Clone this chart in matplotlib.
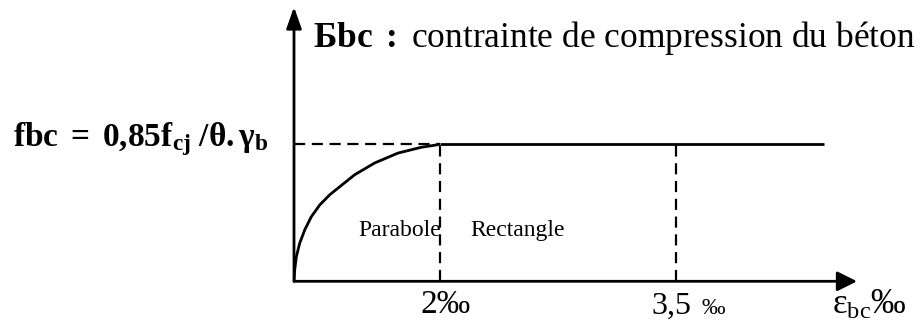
import matplotlib
matplotlib.use("Agg")
import matplotlib.pyplot as plt

plt.rcParams['font.family'] = ['Liberation Serif', 'DejaVu Serif']
plt.rcParams['mathtext.fontset'] = 'custom'
plt.rcParams['mathtext.rm'] = 'Liberation Serif'
plt.rcParams['mathtext.it'] = 'Liberation Serif:italic'
plt.rcParams['mathtext.bf'] = 'Liberation Serif:bold'

# stress-strain sketch (strain in sketch units, stress as fraction of fbc)
eps_curve = [0, 0.0096, 0.032, 0.078, 0.147, 0.237, 0.353, 0.490, 0.649,
             0.833, 1.108, 1.428, 1.747, 1.977, 2.0]
sig_curve = [0, 0.082, 0.179, 0.277, 0.374, 0.470, 0.556, 0.630, 0.698,
             0.776, 0.862, 0.934, 0.976, 0.995, 1.0]
eps_plateau = [2.0, 7.27]
sig_plateau = [1.0, 1.0]
eps_marks = [2.0, 5.24]
eps_labels = ["2‰", "3,5"]
zone_labels = ["Parabole", "Rectangle"]

W, H = 921, 325
fig = plt.figure(figsize=(W / 100, H / 100), dpi=100)
ax = fig.add_axes([294 / W, (H - 281.3) / H, (857 - 294) / W, (281.3 - 7) / H])
ax.set_xlim(0, (857 - 294) / 72.85)
ax.set_ylim(0, (281.3 - 7) / 137.3)
ax.axis('off')

# axes with arrows
ax.annotate('', xy=(1, 0), xytext=(0, 0), xycoords='axes fraction',
            arrowprops=dict(arrowstyle='-|>,head_length=0.6,head_width=0.3',
                            mutation_scale=20, lw=2, color='black',
                            shrinkA=0, shrinkB=0))
ax.annotate('', xy=(0, 1), xytext=(0, 0), xycoords='axes fraction',
            arrowprops=dict(arrowstyle='-|>,head_length=0.65,head_width=0.23',
                            mutation_scale=20, lw=2, color='black',
                            shrinkA=0, shrinkB=0))

# curve and plateau
ax.plot(eps_curve, sig_curve, color='black', lw=2, solid_capstyle='butt',
        solid_joinstyle='round')
ax.plot(eps_plateau, sig_plateau, color='black', lw=2, solid_capstyle='butt')

# dashed guides
ax.plot([0, eps_marks[0]], [1, 1], color='black', lw=1.6, ls=(0, (5, 3)))
for e in eps_marks:
    ax.plot([e, e], [0, 1], color='black', lw=1.6, ls=(0, (5, 3)))

# zone labels
ax.text(eps_marks[0] + 0.02, 0.33, zone_labels[0], ha='right', va='baseline', fontsize=17)
ax.text(eps_marks[0] + 0.42, 0.33, zone_labels[1], ha='left', va='baseline', fontsize=17)

# tick labels under the x axis
fig.text(420 / W, (H - 313) / H, eps_labels[0], ha='left', va='baseline', fontsize=24)
fig.text(651 / W, (H - 314) / H, eps_labels[1], ha='left', va='baseline', fontsize=23)
fig.text(701 / W, (H - 314) / H, "‰", ha='left', va='baseline', fontsize=17)
fig.text(832 / W, (H - 314) / H, r"$\mathrm{\varepsilon_{bc}}$‰", ha='left', va='baseline', fontsize=25)

# stress labels
fig.text(13 / W, (H - 146) / H, r"$\mathbf{fbc\ =\ 0{,}85f_{cj}\ /θ{.}γ_{b}}$",
         ha='left', va='baseline', fontsize=24)
fig.text(313 / W, (H - 47) / H, r"$\mathbf{Бbc\ :}$ contrainte de compression du béton",
         ha='left', va='baseline', fontsize=25.5)

fig.savefig("out.png", dpi=100)
